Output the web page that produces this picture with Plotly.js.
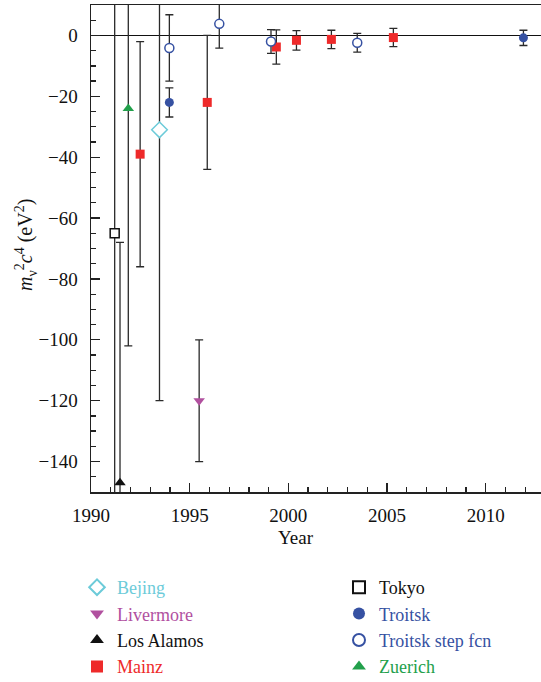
<!DOCTYPE html>
<html><head><meta charset="utf-8">
<script src="https://cdn.plot.ly/plotly-3.0.1.min.js"></script>
<style>html,body{margin:0;padding:0;background:#fff}#chart{width:541px;height:682px}</style>
</head><body><div id="chart"></div>
<script>
// Data (year, m^2 c^4 in eV^2, symmetric error)
const bejingYear = [1993.47], bejingVal = [-31], bejingErr = [89];
const livermoreYear = [1995.48], livermoreVal = [-120], livermoreErr = [20];
const losAlamosYear = [1991.47], losAlamosVal = [-147], losAlamosErr = [79];
const mainzYear = [1992.49, 1995.89, 1999.39, 2000.41, 2002.18, 2005.32];
const mainzVal = [-39, -22, -3.8, -1.6, -1.3, -0.7];
const mainzErr = [37, 22, 5.6, 3.2, 3.0, 3.0];
const tokyoYear = [1991.2], tokyoVal = [-65], tokyoErr = [107];
const troitskYear = [1993.97, 2011.91], troitskVal = [-22, -0.8], troitskErr = [4.8, 2.5];
const troitskStepYear = [1993.97, 1996.5, 1999.12, 2003.49];
const troitskStepVal = [-4.1, 3.8, -2.0, -2.4];
const troitskStepErr = [10.9, 8, 3.9, 3.1];
const zuerichYear = [1991.89], zuerichVal = [-24], zuerichErr = [78];
const seriesNames = ['Bejing', 'Livermore', 'Los Alamos', 'Mainz', 'Tokyo', 'Troitsk', 'Troitsk step fcn', 'Zuerich'];

const FONT = 'Liberation Serif, Times New Roman, serif';
const errStyle = (arr) => ({type:'data', array:arr, symmetric:true, color:'#2a2a2a', thickness:1.3, width:4});

const C = {bej:'#6ccbd9', liv:'#b1509f', la:'#111111', mainz:'#ee2a2a', tok:'#111111', tro:'#3651a2', zue:'#22a04b'};
const legColors = [C.bej, C.liv, C.la, C.mainz, C.tok, C.tro, C.tro, C.zue];
const legIds = ['legend','legend2','legend3','legend4','legend5','legend6','legend7','legend8'];

const traces = [
  {x:bejingYear, y:bejingVal, error_y:errStyle(bejingErr),
   mode:'markers', marker:{symbol:'diamond', size:12, color:'#ffffff', line:{color:C.bej, width:1.5}}},
  {x:livermoreYear, y:livermoreVal, error_y:errStyle(livermoreErr),
   mode:'markers', marker:{symbol:'triangle-down', size:10, color:C.liv}},
  {x:losAlamosYear, y:losAlamosVal, error_y:errStyle(losAlamosErr),
   mode:'markers', marker:{symbol:'triangle-up', size:10, color:C.la}},
  {x:mainzYear, y:mainzVal, error_y:errStyle(mainzErr),
   mode:'markers', marker:{symbol:'square', size:9, color:C.mainz}},
  {x:tokyoYear, y:tokyoVal, error_y:errStyle(tokyoErr),
   mode:'markers', marker:{symbol:'square', size:9, color:'#ffffff', line:{color:C.tok, width:1.5}}},
  {x:troitskYear, y:troitskVal, error_y:errStyle(troitskErr),
   mode:'markers', marker:{symbol:'circle', size:9, color:C.tro}},
  {x:troitskStepYear, y:troitskStepVal, error_y:errStyle(troitskStepErr),
   mode:'markers', marker:{symbol:'circle', size:9, color:'#ffffff', line:{color:C.tro, width:1.5}}},
  {x:zuerichYear, y:zuerichVal, error_y:errStyle(zuerichErr),
   mode:'markers', marker:{symbol:'triangle-up', size:10, color:C.zue}}
];
traces.forEach((t, i) => { t.name = seriesNames[i]; t.legend = legIds[i]; t.showlegend = true; });

const axisCommon = {showgrid:false, showline:true, linecolor:'#222', linewidth:1.5,
  ticks:'inside', tickcolor:'#222', tickwidth:1.3, ticklen:9,
  tickfont:{family:FONT, size:19, color:'#111'}};

const layout = {
  width:541, height:682, paper_bgcolor:'#fff', plot_bgcolor:'#fff',
  margin:{l:91, r:0, t:5, b:190, autoexpand:false},
  font:{family:FONT, size:18, color:'#111'},
  showlegend:true,
  xaxis:Object.assign({}, axisCommon, {range:[1990, 2012.8], tick0:1990, dtick:5, mirror:true,
    zeroline:false, ticklabelstandoff:6, automargin:false,
    minor:{dtick:1, ticklen:5, ticks:'inside', tickcolor:'#222', tickwidth:1.3}}),
  yaxis:Object.assign({}, axisCommon, {range:[-150, 10], tick0:0, dtick:20, mirror:false,
    zeroline:true, zerolinecolor:'#111', zerolinewidth:1.3, ticklabelstandoff:8, automargin:false,
    minor:{dtick:5, ticklen:5, ticks:'inside', tickcolor:'#222', tickwidth:1.3}}),
  annotations:[
    {text:'<i>m</i><sub>ν</sub><sup>2</sup><i>c</i><sup>4</sup> (eV<sup>2</sup>)', xref:'paper', yref:'paper',
     x:(26-91)/450, y:(492-245)/487, textangle:-90, showarrow:false, xanchor:'center', yanchor:'middle',
     font:{family:FONT, size:20, color:'#111'}},
    {text:'Year', xref:'paper', yref:'paper', x:(296-91)/450, y:(492-537)/487, showarrow:false,
     xanchor:'center', yanchor:'middle', font:{family:FONT, size:19, color:'#111'}}
  ]
};
legIds.forEach((id, i) => {
  const col = i < 4 ? 0 : 1, row = i % 4;
  const leftPx = col === 0 ? 77 : 339;
  const topPx = 569 + row * 26.4;
  layout[id] = {x:(leftPx-91)/450, xanchor:'left', y:(492-topPx)/487, yanchor:'top', orientation:'v',
    itemsizing:'constant', font:{family:FONT, size:18, color:legColors[i]},
    bgcolor:'rgba(0,0,0,0)', borderwidth:0};
});

Plotly.newPlot('chart', traces, layout, {staticPlot:true, displayModeBar:false});
</script>
</body></html>
